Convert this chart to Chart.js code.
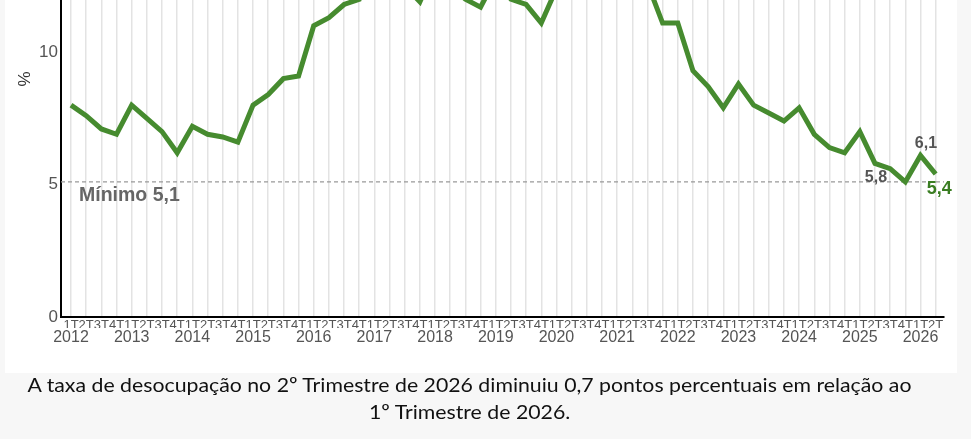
<!DOCTYPE html>
<html>
<head>
<meta charset="utf-8">
<script src="https://cdn.jsdelivr.net/npm/chart.js@4.4.1/dist/chart.umd.min.js"></script>
<style>
html,body{margin:0;padding:0;background:#f7f7f7;width:971px;height:439px;overflow:hidden;}
#panel{position:absolute;left:5px;top:0;width:952px;height:373px;background:#fff;}
#wrap{position:absolute;left:0;top:0;width:971px;height:373px;}
#caption{position:absolute;left:0;top:371px;width:940px;text-align:center;font-family:Lato,'Open Sans',sans-serif;font-size:20px;line-height:27px;color:#111;}
#caption span{display:inline-block;white-space:nowrap;transform-origin:center;}
</style>
</head>
<body>
<div id="panel"></div>
<div id="wrap"><canvas id="c" width="971" height="373"></canvas></div>
<div id="caption"><span id="l1">A taxa de desocupação no 2º Trimestre de 2026 diminuiu 0,7 pontos percentuais em relação ao</span><br><span id="l2">1º Trimestre de 2026.</span></div>
<script>
// ---- data ----
const years = [2012,2013,2014,2015,2016,2017,2018,2019,2020,2021,2022,2023,2024,2025,2026];
const quarterNames = ['1T','2T','3T','4T'];
const rate = [
  8.0, 7.6, 7.1, 6.9,
  8.0, 7.5, 7.0, 6.2,
  7.2, 6.9, 6.8, 6.6,
  8.0, 8.4, 9.0, 9.1,
  11.0, 11.3, 11.8, 12.0,
  13.9, 13.1, 12.5, 11.9,
  13.2, 12.5, 12.0, 11.7,
  12.8, 12.0, 11.8, 11.1,
  12.4, 13.6, 14.9, 14.2,
  14.9, 14.2, 12.6, 11.1,
  11.1, 9.3, 8.7, 7.9,
  8.8, 8.0, 7.7, 7.4,
  7.9, 6.9, 6.4, 6.2,
  7.0, 5.8, 5.6, 5.1,
  6.1, 5.4
];
const yTicks = [0, 5, 10];
const minimo = 5.1;
const minimoLabel = 'Mínimo 5,1';
const labeledPoints = [53, 56, 57];
const yTitle = '%';

// ---- layout constants ----
const X_MIN = -0.66, X_MAX = 57.55, Y_MAX = 11.97;
const FONT = "'Liberation Sans', Arial, sans-serif";
const GREEN = '#468b2f';

const fmt = v => v.toFixed(1).replace('.', ',');

const annot = {
  id: 'annot',
  afterDatasetsDraw(chart) {
    const {ctx, scales: {x, y}, chartArea} = chart;
    ctx.save();
    // y title
    ctx.save();
    ctx.translate(25.5, 79);
    ctx.rotate(-Math.PI / 2);
    ctx.fillStyle = '#333';
    ctx.font = '17px ' + FONT;
    ctx.textAlign = 'center';
    ctx.textBaseline = 'middle';
    ctx.fillText(yTitle, 0, 0);
    ctx.restore();
    // minimo label
    ctx.fillStyle = '#666';
    ctx.font = 'bold 19.5px ' + FONT;
    ctx.textAlign = 'left';
    ctx.textBaseline = 'middle';
    ctx.fillText(minimoLabel, chartArea.left + 18, y.getPixelForValue(minimo) + 14);
    // point labels
    const offs = {53: [1, 14.5, 'bold 16px ', '#555'], 56: [5.5, -12, 'bold 16px ', '#555'], 57: [3.6, 15, 'bold 18px ', '#3a7d22']};
    labeledPoints.forEach(i => {
      const px = x.getPixelForValue(i), py = y.getPixelForValue(rate[i]);
      const o = offs[i];
      ctx.font = o[2] + FONT;
      ctx.fillStyle = o[3];
      ctx.textAlign = 'center';
      ctx.fillText(fmt(rate[i]), px + o[0], py + o[1]);
    });
    ctx.restore();
  }
};

new Chart(document.getElementById('c'), {
  type: 'line',
  data: {
    datasets: [
      {
        data: rate.map((v, i) => ({x: i, y: v})),
        borderColor: GREEN,
        borderWidth: 5,
        pointRadius: 0,
        tension: 0,
        fill: false
      },
      {
        data: [{x: X_MIN, y: minimo}, {x: X_MAX, y: minimo}],
        borderColor: '#999',
        borderWidth: 1.3,
        borderDash: [4, 3],
        pointRadius: 0,
        fill: false
      }
    ]
  },
  options: {
    responsive: false,
    animation: false,
    devicePixelRatio: 1,
    layout: {padding: {left: 0, right: 27, top: 0, bottom: 0}},
    plugins: {legend: {display: false}, tooltip: {enabled: false}},
    scales: {
      x: {
        type: 'linear', position: 'bottom', min: X_MIN, max: X_MAX, weight: 0,
        afterBuildTicks: s => { s.ticks = rate.map((_, i) => ({value: i})); },
        afterFit: s => { s.height = 11; s.paddingLeft = 0; s.paddingRight = 0; },
        grid: {color: '#e3e3e3', lineWidth: 1.5, drawTicks: false},
        border: {display: true, color: '#000', width: 2},
        ticks: {autoSkip: false, maxRotation: 0, minRotation: 0, padding: 0.5, color: '#555',
          font: {family: FONT, size: 13}, callback: v => quarterNames[v % 4]}
      },
      x2: {
        type: 'linear', position: 'bottom', min: X_MIN, max: X_MAX, weight: 1,
        afterBuildTicks: s => { s.ticks = years.map((_, k) => ({value: 4 * k})); },
        afterFit: s => { s.height = 45; s.paddingLeft = 0; s.paddingRight = 0; },
        grid: {display: false, drawTicks: false},
        border: {display: false},
        ticks: {autoSkip: false, maxRotation: 0, minRotation: 0, padding: 0, color: '#555',
          font: {family: FONT, size: 16}, callback: v => String(years[Math.round(v / 4)])}
      },
      y: {
        min: 0, max: Y_MAX,
        afterBuildTicks: s => { s.ticks = yTicks.map(v => ({value: v})); },
        afterFit: s => { s.width = 61; s.paddingTop = 0; s.paddingBottom = 0; },
        grid: {color: 'transparent', drawTicks: false},
        border: {display: true, color: '#000', width: 2},
        ticks: {padding: 3, color: '#555', font: {family: FONT, size: 17}}
      }
    }
  },
  plugins: [annot]
});

// fit caption width to the reference
(function () {
  const l1 = document.getElementById('l1'), l2 = document.getElementById('l2');
  const w = l1.getBoundingClientRect().width;
  const k = 884 / w;
  l1.style.transform = 'scaleX(' + k + ')';
  l2.style.transform = 'scaleX(' + k + ')';
})();
</script>
</body>
</html>
